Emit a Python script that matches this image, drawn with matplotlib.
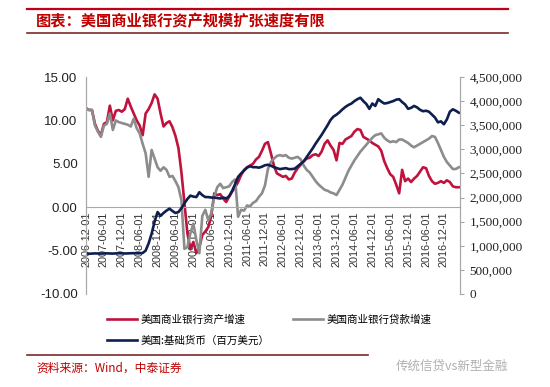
import numpy as np
import matplotlib
matplotlib.use("Agg")
import matplotlib.pyplot as plt
from matplotlib.lines import Line2D
from matplotlib.ticker import FuncFormatter

plt.rcParams['font.family'] = ['Noto Sans CJK SC', 'DejaVu Sans']

# ---- data (monthly, 2006-12 .. 2017-05) ----
asset_growth = [
    11.4, 11.2, 11.2, 9.6, 8.8, 8.3, 9.6, 9.8, 11.7, 10.0,
    11.1, 11.2, 11.0, 11.3, 12.5, 11.6, 10.8, 10.0, 9.4, 8.3,
    10.8, 11.3, 12.0, 13.0, 12.5, 10.8, 9.3, 9.7, 9.9, 9.2,
    8.2, 6.8, 4.0, 0.5, -3.0, -4.8, -4.0, -5.3, -4.6, -3.2,
    -2.8, -2.3, -1.0, 1.6, 1.4, 1.5, 1.0, 0.6, 1.2, 1.8,
    2.3, 2.9, 3.7, 4.3, 4.6, 4.8, 5.0, 5.5, 5.8, 6.5,
    7.3, 7.5, 6.2, 4.8, 3.9, 3.7, 3.5, 3.6, 3.2, 3.3,
    4.0, 4.5, 4.9, 5.3, 5.6, 5.7, 6.0, 6.1, 5.9, 6.4,
    7.3, 7.7, 7.1, 6.6, 5.4, 7.4, 7.3, 7.8, 8.0, 8.2,
    8.7, 9.0, 8.9, 8.1, 7.9, 7.7, 7.4, 7.2, 7.0, 6.5,
    5.3, 4.5, 3.8, 3.5, 2.6, 1.6, 4.3, 3.0, 3.3, 2.9,
    3.3, 3.6, 4.1, 4.6, 4.5, 3.6, 3.0, 2.7, 2.8, 3.0,
    2.8, 3.1, 2.9, 2.4, 2.3, 2.3,
]

loan_growth = [
    11.4, 11.2, 11.2, 9.4, 8.7, 8.1, 9.4, 9.6, 10.8, 8.9,
    10.0, 9.8, 9.7, 9.6, 9.5, 9.3, 10.2, 9.1, 8.5, 7.3,
    6.2, 3.5, 6.6, 5.6, 4.6, 4.2, 4.6, 4.3, 3.5, 3.6,
    3.0, 2.3, 0.8, -4.8, -4.6, -3.0, -1.9, -3.8, -5.3, -1.0,
    -0.3, -1.5, -0.7, 1.2, 2.3, 2.7, 2.2, 2.3, 2.4, 2.9,
    3.2, -1.1, -0.3, -0.4, 0.2, 0.1, 0.5, 0.7, 1.2, 1.6,
    2.5, 4.4, 5.2, 5.6, 5.9, 6.0, 5.9, 6.0, 5.7, 5.6,
    5.7, 5.8, 5.5, 4.8, 4.3, 4.0, 3.5, 3.0, 2.6, 2.3,
    2.0, 1.9, 1.7, 1.6, 1.4, 2.0, 2.6, 3.4, 4.2, 4.8,
    5.4, 5.9, 6.4, 6.8, 7.2, 7.6, 8.0, 8.3, 8.4, 8.5,
    8.0, 7.7, 7.5, 7.6, 7.5, 7.8, 7.8, 7.6, 7.4, 7.1,
    6.9, 7.1, 7.3, 7.5, 7.7, 7.9, 8.2, 8.1, 7.4, 6.6,
    5.8, 5.2, 4.8, 4.4, 4.4, 4.6,
]

# 美国:基础货币, million USD
monetary_base = [
    840000, 835000, 838000, 842000, 840000, 838000, 841000, 843000, 840000, 838000,
    842000, 845000, 843000, 840000, 842000, 845000, 846000, 844000, 845000, 850000,
    900000, 1050000, 1250000, 1500000, 1700000, 1620000, 1680000, 1730000, 1770000, 1720000,
    1680000, 1700000, 1780000, 1880000, 1970000, 2040000, 2020000, 2010000, 2110000, 2050000,
    2010000, 2010000, 2000000, 2000000, 1990000, 1980000, 2000000, 1980000, 2030000, 2140000,
    2280000, 2430000, 2500000, 2560000, 2620000, 2650000, 2630000, 2630000, 2620000, 2640000,
    2670000, 2680000, 2660000, 2630000, 2610000, 2590000, 2600000, 2610000, 2590000, 2590000,
    2600000, 2650000, 2700000, 2750000, 2840000, 2930000, 3020000, 3120000, 3210000, 3300000,
    3400000, 3500000, 3610000, 3680000, 3720000, 3770000, 3830000, 3880000, 3920000, 3950000,
    4000000, 4040000, 4070000, 4000000, 3940000, 3840000, 3950000, 3900000, 4040000, 3990000,
    3950000, 3960000, 3980000, 4000000, 4030000, 4040000, 3980000, 3930000, 3840000, 3860000,
    3900000, 3870000, 3820000, 3790000, 3800000, 3780000, 3720000, 3660000, 3560000, 3580000,
    3520000, 3620000, 3780000, 3830000, 3800000, 3760000,
]

tick_labels = ['2006-12-01', '2007-06-01', '2007-12-01', '2008-06-01', '2008-12-01',
               '2009-06-01', '2009-12-01', '2010-06-01', '2010-12-01', '2011-06-01',
               '2011-12-01', '2012-06-01', '2012-12-01', '2013-06-01', '2013-12-01',
               '2014-06-01', '2014-12-01', '2015-06-01', '2015-12-01', '2016-06-01',
               '2016-12-01']

label_asset = '美国商业银行资产增速'
label_loan = '美国商业银行贷款增速'
label_base = '美国:基础货币（百万美元）'

RED = '#C0123C'
GRAY = '#8C8C8C'
NAVY = '#0E1E4E'
TITLE_RED = '#C00000'

months = np.arange(len(asset_growth))

fig = plt.figure(figsize=(5.5, 3.87), dpi=100)

# ---- decorative header / footer ----
fig.add_artist(Line2D([27/550, 508/550], [1-9/387, 1-9/387], color='#C0001A', lw=1.6))
fig.add_artist(Line2D([27/550, 508/550], [1-33/387, 1-33/387], color='#7A2A2A', lw=1.2))
fig.text(36/550, 1-21/387, '图表：美国商业银行资产规模扩张速度有限', color=TITLE_RED,
         fontsize=11, fontweight='bold', va='center', ha='left')

fig.add_artist(Line2D([27/550, 368/550], [1-355/387, 1-355/387], color='#7A2A2A', lw=1.2))
fig.text(36/550, 1-368/387, '资料来源：Wind，中泰证券', color=TITLE_RED,
         fontsize=8.5, va='center', ha='left')
fig.text(508/550, 1-366/387, '传统信贷vs新型金融', color='#B0B0B0',
         fontsize=9, va='center', ha='right')

# ---- main axes ----
ax = fig.add_axes([86/550, 1-294/387, (460-86)/550, (294-77)/387])
ax2 = ax.twinx()

l1, = ax.plot(months, asset_growth, color=RED, lw=1.9, label=label_asset)
l2, = ax.plot(months, loan_growth, color=GRAY, lw=1.9, label=label_loan)
l3, = ax2.plot(months, monetary_base, color=NAVY, lw=1.9, label=label_base)

# spine position first: it resets the tick objects
ax.spines['bottom'].set_position(('data', 0))

ax.set_xlim(0, 125.4)
ax.set_ylim(-10, 15)
ax.set_yticks([-10, -5, 0, 5, 10, 15])
ax.yaxis.set_major_formatter(FuncFormatter(lambda v, p: f'{v:.2f}'))
ax2.set_ylim(0, 4500000)
ax2.set_yticks(np.arange(0, 4500001, 500000))
ax2.yaxis.set_major_formatter(FuncFormatter(lambda v, p: f'{int(v):,}'))

ax.set_xticks(np.arange(0, 121, 6))
ax.set_xticklabels(tick_labels)
ax.tick_params(axis='x', length=0, pad=3, labelrotation=90, labelsize=7.8,
               labelcolor='#333333', labelfontfamily='Liberation Sans')
ax.tick_params(axis='y', length=0, pad=6, labelsize=9.5, labelcolor='#222222',
               labelfontfamily='Liberation Sans')
ax2.tick_params(axis='y', length=3, color='#A8A8A8', pad=4, labelsize=9.5,
                labelcolor='#222222', labelfontfamily='Liberation Serif')

for a in (ax, ax2):
    a.spines['top'].set_visible(False)
    a.spines['bottom'].set_color('#A8A8A8')
    a.spines['left'].set_color('#A8A8A8')
    a.spines['right'].set_color('#A8A8A8')
ax2.spines['bottom'].set_visible(False)

fig.legend(handles=[l1, l3, l2], labels=[label_asset, label_base, label_loan],
           ncol=2, loc='upper left', bbox_to_anchor=(103/550, 1-310/387),
           frameon=False, fontsize=7.6, handlelength=2.8, handletextpad=0.4,
           columnspacing=2.2, labelspacing=1.0, borderaxespad=0)

fig.savefig('out.png', dpi=100)
